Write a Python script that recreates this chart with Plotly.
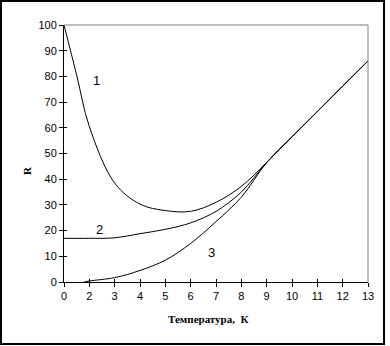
import plotly.graph_objects as go

# category positions and their tick labels (note: label "1" is absent in the source)
tick_pos = list(range(13))
tick_labels = ['0', '2', '3', '4', '5', '6', '7', '8', '9', '10', '11', '12', '13']
y_ticks = list(range(0, 101, 10))

# series (x in category-position units)
x1 = [0, 0.5, 1, 2, 3, 4, 5, 6, 7, 8, 9, 10, 11, 12]
y1 = [100, 80.5, 60.5, 38.5, 30.3, 27.8, 27.5, 31, 37.2, 46.5, 56.5, 66.3, 76.2, 86]

x2 = [0, 1, 2, 3, 4, 5, 6, 7, 8, 9, 10, 11, 12]
y2 = [17, 17, 17.2, 18.8, 20.5, 23, 27.5, 35, 46.5, 56.5, 66.3, 76.2, 86]

x3 = [0.8, 1, 2, 3, 4, 5, 6, 7, 8, 9, 10, 11, 12]
y3 = [0, 0.4, 1.7, 4.5, 8.5, 15, 23.5, 33, 46.5, 56.5, 66.3, 76.2, 86]

curve_labels = ['1', '2', '3']
label_x = [1.3, 1.39, 5.83]
label_y = [78.5, 20.5, 11.5]

fig = go.Figure()
for xs, ys in [(x1, y1), (x2, y2), (x3, y3)]:
    fig.add_trace(go.Scatter(x=xs, y=ys, mode='lines',
                             line=dict(color='black', width=1, shape='spline', smoothing=1),
                             showlegend=False, hoverinfo='skip'))

W, H = 390, 346
L, R, T, B = 64, 22, 25, 64
pw, ph = W - L - R, H - T - B

def px(xp):
    return (xp - L) / pw

def py(yp):
    return (H - B - yp) / ph

tickfont = dict(family='Liberation Sans, Arial', size=11, color='black')

fig.update_layout(
    width=W, height=H,
    margin=dict(l=L, r=R, t=T, b=B, pad=0),
    paper_bgcolor='white', plot_bgcolor='white',
    xaxis=dict(range=[0, 12], tickvals=tick_pos, ticktext=tick_labels,
               showgrid=False, zeroline=False, showline=True, linecolor='black', linewidth=1,
               ticks='outside', ticklen=4, tickcolor='black', tickwidth=1,
               tickfont=tickfont, fixedrange=True),
    yaxis=dict(range=[0, 100], tickvals=y_ticks,
               showgrid=False, zeroline=False, showline=True, linecolor='black', linewidth=1,
               ticks='outside', ticklen=4, tickcolor='black', tickwidth=1,
               tickfont=tickfont, fixedrange=True),
    xaxis2=dict(range=[0, 12], tickvals=tick_pos, overlaying='x', anchor='y',
                showticklabels=False, showgrid=False, zeroline=False, showline=False,
                ticks='inside', ticklen=3, tickcolor='black', tickwidth=1),
    yaxis2=dict(range=[0, 100], tickvals=y_ticks, overlaying='y', anchor='x',
                showticklabels=False, showgrid=False, zeroline=False, showline=False,
                ticks='inside', ticklen=3, tickcolor='black', tickwidth=1),
)
# dummy invisible trace to activate the overlay axes
fig.add_trace(go.Scatter(x=[None], y=[None], xaxis='x2', yaxis='y2', showlegend=False))

shapes = [
    # gray plot-area border (top and right)
    dict(type='line', xref='paper', yref='paper', x0=0, x1=1, y0=1, y1=1,
         line=dict(color='#808080', width=1)),
    dict(type='line', xref='paper', yref='paper', x0=1, x1=1, y0=0, y1=1,
         line=dict(color='#808080', width=1)),
    # outer black frame
    dict(type='rect', xref='paper', yref='paper', x0=px(1), x1=px(384), y0=py(344), y1=py(1),
         line=dict(color='black', width=2)),
]
fig.update_layout(shapes=shapes)

annotations = []
for t, lx, ly in zip(curve_labels, label_x, label_y):
    annotations.append(dict(x=lx, y=ly, xref='x', yref='y', text=t, showarrow=False,
                            xanchor='center', yanchor='middle',
                            font=dict(family='Liberation Sans, Arial', size=13, color='black')))
annotations.append(dict(x=px(208), y=py(319), xref='paper', yref='paper',
                        xanchor='center', yanchor='middle',
                        text='<b>Температура,  К</b>', showarrow=False,
                        font=dict(family='Liberation Serif, Times New Roman', size=11, color='black')))
annotations.append(dict(x=px(27), y=py(171), xref='paper', yref='paper', textangle=-90,
                        xanchor='center', yanchor='middle',
                        text='<b>R</b>', showarrow=False,
                        font=dict(family='Liberation Serif, Times New Roman', size=11, color='black')))
fig.update_layout(annotations=annotations)

fig.write_html('out.html')
